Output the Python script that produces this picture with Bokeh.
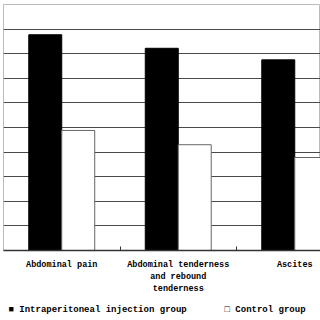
from bokeh.plotting import figure
from bokeh.models import Range1d, FixedTicker, LinearAxis, Title
from bokeh.embed import file_html
from bokeh.resources import INLINE

categories = ["Abdominal pain", "Abdominal tenderness\nand rebound\ntenderness", "Ascites"]
injection_group = [87.7, 82.2, 77.5]
control_group = [48.8, 43.0, 37.8]
legend_labels = ["Intraperitoneal injection group", "Control group"]

centers = [i + 0.5 for i in range(len(categories))]
bw = 0.283

p = figure(width=320, height=320, output_backend="svg", toolbar_location=None,
           x_range=Range1d(0, 317 / 116.5), y_range=Range1d(0, 100),
           min_border_left=3, min_border_right=0, min_border_top=4, min_border_bottom=70,
           x_axis_location=None, y_axis_location=None)
p.outline_line_color = "#bbbbbb"
p.outline_line_width = 1
p.background_fill_color = "white"
p.border_fill_color = "white"

p.xgrid.visible = False
p.ygrid.ticker = FixedTicker(ticks=[10, 20, 30, 40, 50, 60, 70, 80, 90])
p.ygrid.grid_line_color = "#4a4a4a"
p.ygrid.grid_line_width = 1

r1 = p.vbar(x=[c - bw / 2 for c in centers], top=injection_group, width=bw,
            fill_color="black", line_color="black", line_width=1)
r2 = p.vbar(x=[c + bw / 2 for c in centers], top=control_group, width=bw,
            fill_color="white", line_color="#666666", line_width=1)

xaxis = LinearAxis(ticker=FixedTicker(ticks=centers, minor_ticks=[1, 2]))
xaxis.major_label_overrides = {c: lab for c, lab in zip(centers, categories)}
xaxis.major_tick_in = 0
xaxis.major_tick_out = 0
xaxis.minor_tick_in = 4
xaxis.minor_tick_out = 0
xaxis.minor_tick_line_color = "#333333"
xaxis.axis_line_color = "#333333"
xaxis.axis_line_width = 1.5
xaxis.major_label_standoff = 9
xaxis.major_label_text_font = "Liberation Mono"
xaxis.major_label_text_font_style = "bold"
xaxis.major_label_text_font_size = "8.5px"
xaxis.major_label_text_color = "black"
p.add_layout(xaxis, "below")

gap = "\u00a0" * 7
legend_text = "\u25a0\u00a0" + legend_labels[0] + gap + "\u25a1\u00a0" + legend_labels[1]
title = Title(text=legend_text, align="left", offset=5, standoff=12,
              text_font="Liberation Mono", text_font_style="bold",
              text_font_size="9px", text_color="black")
p.add_layout(title, "below")

open("out.html", "w").write(file_html(p, INLINE))
